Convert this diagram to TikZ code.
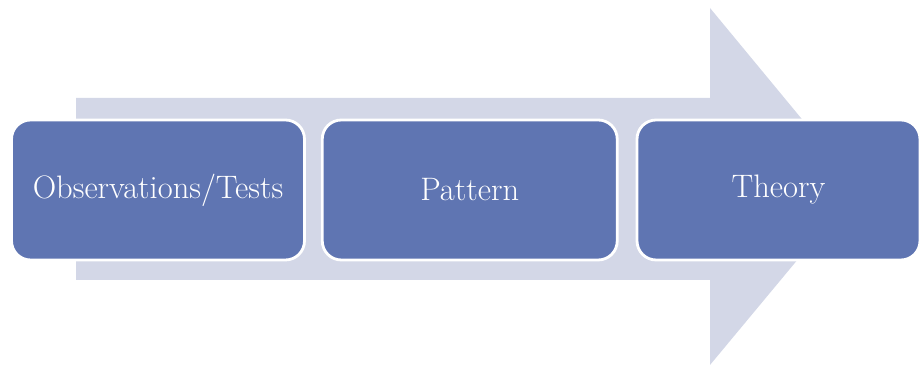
\documentclass[tikz,border=0pt]{standalone}
\usetikzlibrary{positioning}
\definecolor{stepblue}{RGB}{95,117,178}
\definecolor{arrowgray}{RGB}{211,215,231}

\begin{document}
\begin{tikzpicture}[
        x=0.02cm, y=0.02cm,
        node distance=0.3cm,
        stagebox/.style={draw=white, line width=1.6pt, fill=stepblue, rounded corners=0.38cm,
            minimum height=2.8cm, text=white, font=\fontsize{18.5}{22}\selectfont}
    ]
        \useasboundingbox (0,0) rectangle (920,367);
        % big arrow behind the boxes
        \fill[arrowgray] (76,269) -- (710,269) -- (710,359) -- (858,180) -- (710,2) -- (710,87) -- (76,87) -- cycle;

        \node[stagebox, minimum width=5.86cm] (obs) at (158,177) {Observations/Tests};
        \node[stagebox, minimum width=5.9cm, right=of obs] (pattern) {Pattern};
        \node[stagebox, minimum width=5.66cm, right=0.34cm of pattern] (theory) {Theory};
    \end{tikzpicture}
\end{document}
